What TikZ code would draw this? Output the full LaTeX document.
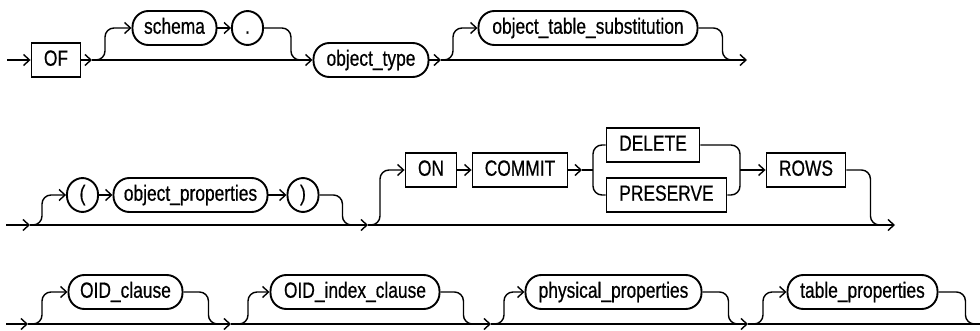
\documentclass[tikz,border=0pt]{standalone}
\usepackage{fontspec}
\setmainfont{Liberation Sans}[FakeStretch=0.79,FakeBold=0.6]
\usetikzlibrary{arrows.meta}
\begin{document}
\begin{tikzpicture}[x=1pt,y=-1pt,
  rail/.style={line width=1.4pt},
  arr/.style={-{Straight Barb[length=6pt,width=11pt]}},
  term/.style={draw,line width=1.9pt,rectangle,minimum height=34,inner sep=0pt,
    text height=16pt,text depth=4.5pt,font=\fontsize{22}{25}\selectfont},
  nterm/.style={term,rounded corners=16},
  rc/.style={rounded corners=9}]
\useasboundingbox (0,0) rectangle (980,331);
% ---------- row 1
\coordinate (a0) at (7,60);
\node[term,minimum width=49] (OF) at (56,60) {OF};
\coordinate (s1) at (92,60);
\node[nterm,minimum width=84] (schema) at (174.5,28) {schema};
\node[nterm,minimum width=31] (dot) at (247.5,28) {.};
\coordinate (m1) at (303,60);
\node[nterm,minimum width=115] (otype) at (371,60) {object\_type};
\coordinate (s2) at (441,60);
\node[nterm,minimum width=219] (ots) at (588,28) {object\_table\_substitution};
\coordinate (m2) at (737,60);
\coordinate (e1) at (747,60);
\draw[rail,arr] (a0) -- (OF);
\draw[rail,arr] (OF) -- (s1);
\draw[rail,arr] (s1) -- (otype);
\draw[rail,arr,rc] (s1) -- ++(13,0) |- (schema.west);
\draw[rail,arr] (schema) -- (dot);
\draw[rail,rc] (dot.east) -- ++(27,0) |- (m1);
\draw[rail,arr] (otype) -- (s2);
\draw[rail,arr] (s2) -- (e1);
\draw[rail,arr,rc] (s2) -- ++(12,0) |- (ots.west);
\draw[rail,rc] (ots.east) -- ++(24,0) |- (m2);
% ---------- row 2
\coordinate (a2) at (6,225);
\coordinate (s3) at (30,225);
\node[nterm,minimum width=31] (lp) at (82.5,195) {(};
\node[nterm,minimum width=154] (oprops) at (190.5,195) {object\_properties};
\node[nterm,minimum width=31] (rp) at (303,195) {)};
\coordinate (m3) at (353,225);
\coordinate (s4) at (368,225);
\node[term,minimum width=51] (ON) at (431,170) {ON};
\node[term,minimum width=95] (COMMIT) at (520,170) {COMMIT};
\coordinate (s5) at (582,170);
\coordinate (c1) at (593,170);
\node[term,minimum width=93] (DELETE) at (653,145) {DELETE};
\node[term,minimum width=120] (PRESERVE) at (666.5,195) {PRESERVE};
\coordinate (j1) at (740,170);
\node[term,minimum width=79] (ROWS) at (806,170) {ROWS};
\coordinate (m4) at (880,225);
\coordinate (e2) at (895,225);
\draw[rail,arr] (a2) -- (s3);
\draw[rail,arr] (s3) -- (s4);
\draw[rail,arr] (s4) -- (e2);
\draw[rail,arr,rc] (s3) -- ++(12,0) |- (lp.west);
\draw[rail,arr] (lp) -- (oprops);
\draw[rail,arr] (oprops) -- (rp);
\draw[rail,rc] (rp.east) -- ++(23,0) |- (m3);
\draw[rail,arr,rc] (s4) -- ++(12,0) |- (ON.west);
\draw[rail,arr] (ON) -- (COMMIT);
\draw[rail,arr] (COMMIT) -- (s5);
\draw[rail] (s5) -- (c1);
\draw[rail,rc] (DELETE.west) -| (c1) |- (PRESERVE.west);
\draw[rail,rc] (DELETE.east) -| (j1) |- (PRESERVE.east);
\draw[rail,arr] (j1) -- (ROWS);
\draw[rail,rc] (ROWS.east) -- ++(24,0) |- (m4);
% ---------- row 3
\coordinate (a3) at (6,324);
\coordinate (s6) at (28,324);
\node[nterm,minimum width=114] (oidc) at (125.5,292) {OID\_clause};
\coordinate (m5) at (220,324);
\coordinate (s7) at (231,324);
\node[nterm,minimum width=169] (oidi) at (355,292) {OID\_index\_clause};
\coordinate (m6) at (475,324);
\coordinate (s8) at (491,324);
\node[nterm,minimum width=176] (phys) at (613.5,292) {physical\_properties};
\coordinate (m7) at (740,324);
\coordinate (s9) at (748,324);
\node[nterm,minimum width=150] (tabp) at (862.5,292) {table\_properties};
\coordinate (m8) at (975,324);
\coordinate (e3) at (980,324);
\draw[rail,arr] (a3) -- (s6);
\draw[rail,arr] (s6) -- (s7);
\draw[rail,arr] (s7) -- (s8);
\draw[rail,arr] (s8) -- (s9);
\draw[rail] (s9) -- (e3);
\draw[rail,arr,rc] (s6) -- ++(14,0) |- (oidc.west);
\draw[rail,rc] (oidc.east) -- ++(25,0) |- (m5);
\draw[rail,arr,rc] (s7) -- ++(17,0) |- (oidi.west);
\draw[rail,rc] (oidi.east) -- ++(23,0) |- (m6);
\draw[rail,arr,rc] (s8) -- ++(13,0) |- (phys.west);
\draw[rail,rc] (phys.east) -- ++(26,0) |- (m7);
\draw[rail,arr,rc] (s9) -- ++(15,0) |- (tabp.west);
\draw[rail,rc] (tabp.east) -- ++(27,0) |- (m8);
\end{tikzpicture}
\end{document}
